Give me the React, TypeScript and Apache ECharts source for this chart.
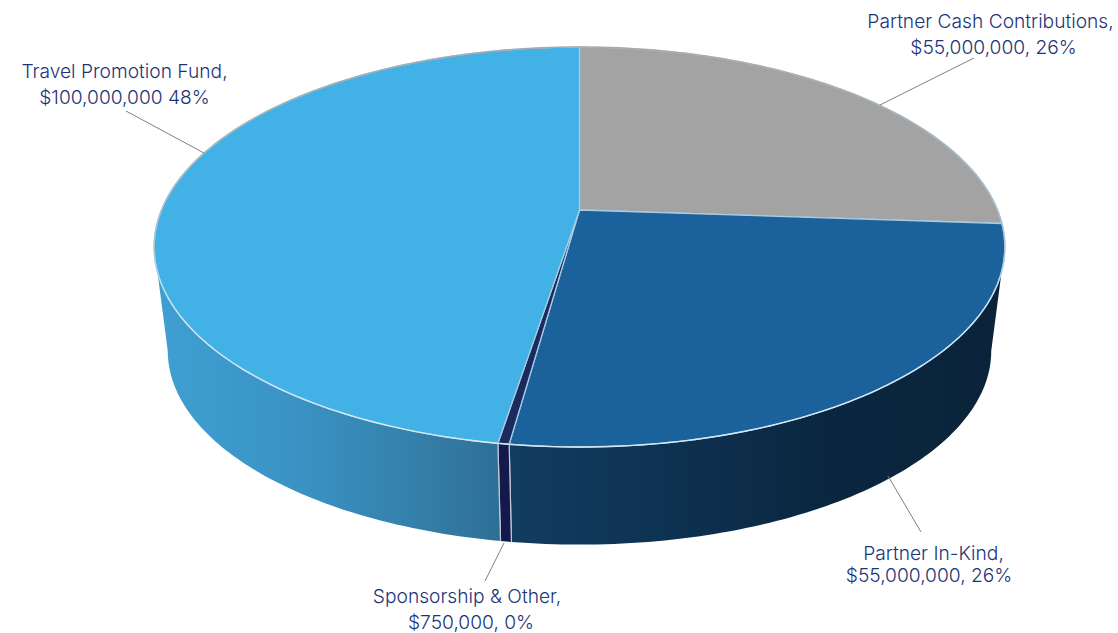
import React, { useEffect, useRef } from "react";
import * as echarts from "echarts";

// Funding sources, clockwise from twelve o'clock.
const sources = ["Partner Cash Contributions", "Partner In-Kind", "Sponsorship & Other", "Travel Promotion Fund"];
const amounts = [55000000, 55000000, 750000, 100000000];
const faceColors = ["#a3a3a3", "#1b619b", "#1b2a5f", "#42b1e6"];
const wallStops = [
  [[0, "#0a2339"], [1, "#0a2339"]],
  [[0, "#123c60"], [0.3, "#0e3252"], [0.62, "#0a2740"], [1, "#0a2339"]],
  [[0, "#14184a"], [1, "#14184a"]],
  [[0, "#3f9fd2"], [0.4, "#3a93c4"], [0.75, "#3480aa"], [1, "#2e6f96"]],
];
const wallSpans = [[800, 1010], [510, 1010], [498, 511], [160, 500]];

const labelLines = [
  { text: "Travel Promotion Fund,", x: 124.5, y: 71 },
  { text: "$100,000,000 48%", x: 124.5, y: 97 },
  { text: "Partner Cash Contributions,", x: 990.5, y: 21 },
  { text: "$55,000,000, 26%", x: 993.5, y: 47 },
  { text: "Partner In-Kind,", x: 933.5, y: 553 },
  { text: "$55,000,000, 26%", x: 929, y: 575 },
  { text: "Sponsorship & Other,", x: 467, y: 596 },
  { text: "$750,000, 0%", x: 471, y: 622 },
];
const leaders = [
  [126, 111, 204, 153],
  [974, 58, 880, 105],
  [888, 476, 921, 532],
  [504, 543, 485, 581],
];

const total = amounts.reduce((a, b) => a + b, 0);
const startFraction = (i: number) => amounts.slice(0, i).reduce((a, b) => a + b, 0) / total;

// Perspective view of the top disc: the hub sits above the ellipse centre.
const CX = 579.5;
const HUB_Y = 210;
const RADIUS_X = 418;
const DEPTH = -154.3;
const FORESHORTEN = 0.185;
const ELLIPSE_Y = 247;
const BASE_Y = 351;
const BASE_SCALE = 0.968;

function topPoint(angle: number): [number, number] {
  const u = Math.sin(angle);
  const v = Math.cos(angle);
  const d = 1 + FORESHORTEN * v;
  return [CX + (RADIUS_X * u) / d, (HUB_Y + DEPTH * v) / d];
}
function basePoint(angle: number): [number, number] {
  const [x, y] = topPoint(angle);
  return [CX + BASE_SCALE * (x - CX), BASE_Y + BASE_SCALE * (y - ELLIPSE_Y)];
}
function arc(from: number, to: number, pt: (a: number) => [number, number]) {
  const steps = Math.max(2, Math.ceil(((to - from) / (Math.PI * 2)) * 360));
  const out: [number, number][] = [];
  for (let i = 0; i <= steps; i++) out.push(pt(from + ((to - from) * i) / steps));
  return out;
}
// The wall is only visible between the two silhouette angles of the disc.
const FRONT_FROM = Math.acos(-FORESHORTEN);
const FRONT_TO = Math.PI * 2 - FRONT_FROM;

function renderWall(params: any, api: any) {
  const i = params.dataIndex;
  const a0 = startFraction(i) * Math.PI * 2;
  const a1 = a0 + (api.value(0) / total) * Math.PI * 2;
  const from = Math.max(a0, FRONT_FROM);
  const to = Math.min(a1, FRONT_TO);
  const children: any[] = [];
  if (to > from) {
    const [x0, x1] = wallSpans[i];
    const points = [...arc(from, to, topPoint), ...arc(from, to, basePoint).reverse()];
    children.push({
      type: "polygon",
      shape: { points },
      style: {
        fill: new echarts.graphic.LinearGradient(
          x0, 0, x1, 0,
          wallStops[i].map(([offset, color]) => ({ offset: offset as number, color: color as string })),
          true,
        ),
      },
    });
  }
  children.push(...[a0, a1].filter((a) => Math.cos(a) < -0.3).map((a) => {
    const [x1, y1] = topPoint(a);
    const [x2, y2] = basePoint(a);
    return { type: "line", shape: { x1, y1, x2, y2 }, style: { stroke: "#c3cbd8", lineWidth: 1.2 } };
  }));
  return { type: "group", children };
}

function renderFace(params: any, api: any) {
  const i = params.dataIndex;
  const a0 = startFraction(i) * Math.PI * 2;
  const a1 = a0 + (api.value(0) / total) * Math.PI * 2;
  const rim = arc(a0, a1, topPoint);
  return {
    type: "group",
    children: [
      {
        type: "polygon",
        shape: { points: [[CX, HUB_Y], ...rim] },
        style: { fill: faceColors[i], stroke: "#a8cbe2", lineWidth: 1.3, lineJoin: "round" },
      },
      {
        type: "polyline",
        shape: { points: rim },
        style: {
          fill: "none",
          lineWidth: 1.4,
          stroke: new echarts.graphic.LinearGradient(
            0, 47, 0, 447,
            [
              { offset: 0, color: "#a6aaac" },
              { offset: 0.5, color: "#a9c4d4" },
              { offset: 0.62, color: "#c4e2f2" },
              { offset: 1, color: "#d6e8f3" },
            ],
            true,
          ),
        },
      },
    ],
  };
}

export default function App() {
  const ref = useRef<HTMLDivElement>(null);
  useEffect(() => {
    document.body.style.margin = "0";
    const chart = echarts.init(ref.current!, undefined, { renderer: "svg" });
    const data = amounts.map((value, i) => ({ name: sources[i], value: [value] }));
    chart.setOption({
      animation: false,
      backgroundColor: "#ffffff",
      series: [
        { type: "custom", coordinateSystem: "none", silent: true, z: 1, data, renderItem: renderWall },
        { type: "custom", coordinateSystem: "none", silent: true, z: 2, data, renderItem: renderFace },
      ],
      graphic: [
        ...leaders.map(([x1, y1, x2, y2]) => ({
          type: "line",
          z: 5,
          shape: { x1, y1, x2, y2 },
          style: { stroke: "#7f7f7f", lineWidth: 1 },
        })),
        ...labelLines.map((l) => ({
          type: "text",
          z: 6,
          x: l.x,
          y: l.y,
          style: {
            text: l.text,
            fill: "#1c3578",
            font: "300 19.2px Inter",
            align: "center",
            verticalAlign: "middle",
          },
        })),
      ],
    });
    return () => chart.dispose();
  }, []);
  return <div ref={ref} style={{ width: 1118, height: 633 }} />;
}
